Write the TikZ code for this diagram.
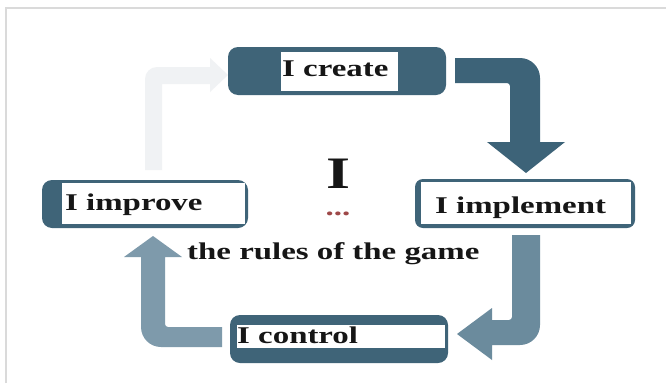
\documentclass[tikz,border=0pt]{standalone}
\usepackage{fontspec}
\setmainfont{Liberation Serif}
\newfontfamily\labelfont[FakeStretch=1.37]{Liberation Serif}
\definecolor{boxdark}{HTML}{3F6478}
\definecolor{arrowA}{HTML}{3D6378}
\definecolor{arrowB}{HTML}{6B8B9D}
\definecolor{arrowC}{HTML}{7E9AAB}
\definecolor{arrowD}{HTML}{F0F2F4}
\definecolor{framegray}{HTML}{DADADA}
\definecolor{dotred}{HTML}{9E4848}
\definecolor{ink}{HTML}{161616}
\begin{document}
\begin{tikzpicture}[x=1pt,y=-1pt,
  lbl/.style={font=\labelfont\bfseries\fontsize{24}{28}\selectfont, text=ink, inner sep=0pt, anchor=base west},
  boxouter/.style={fill=boxdark, rounded corners=10pt},
  boxinner/.style={fill=white}]
\useasboundingbox (0,0) rectangle (666,383);
\fill[white] (0,0) rectangle (666,383);
\draw[framegray, line width=1.5pt] (6,383) -- (6,8) -- (666,8);

% block arrows
% top-left (faint)
\fill[arrowD] (145,170) [rounded corners=12pt] -- (145,67) [sharp corners] -- (210,67) -- (210,58) -- (228,75) -- (210,92) -- (210,84) -- (162,84) -- (162,170) -- cycle;
% top-right
\fill[arrowA] (455,58) [rounded corners=20pt] -- (540,58) [sharp corners] -- (540,142) -- (565,142) -- (526,173) -- (487,142) -- (510,142) [rounded corners=3pt] -- (510,83) [sharp corners] -- (455,83) -- cycle;
% right-bottom
\fill[arrowB] (512,235) -- (540,235) [rounded corners=20pt] -- (540,345) [sharp corners] -- (492,345) -- (492,360) -- (457,334) -- (492,308) -- (492,320) [rounded corners=3pt] -- (512,320) [sharp corners] -- cycle;
% bottom-left
\fill[arrowC] (222,327) -- (222,347) [rounded corners=20pt] -- (141,347) [sharp corners] -- (141,257) -- (124,257) -- (153,236) -- (182,257) -- (165,257) [rounded corners=3pt] -- (165,327) [sharp corners] -- cycle;

% boxes
\fill[boxouter] (228,47) rectangle (446,95);
\fill[boxinner] (281,52) rectangle (398,91);
\node[lbl] (create) at (282,76) {I create};

\fill[boxouter, rounded corners=8pt] (415,179) rectangle (635,228);
\fill[boxinner] (421,182) rectangle (631,224);
\node[lbl] (implement) at (435,213) {I implement};

\fill[boxouter] (42,180) rectangle (248,228);
\fill[boxinner] (62,183) rectangle (245,224);
\node[lbl] (improve) at (65,210) {I improve};

\fill[boxouter] (230,315) rectangle (448,363);
\fill[boxinner] (237,325) rectangle (445,348);
\node[lbl] (control) at (237,343) {I control};

% centre
\node[lbl, font=\labelfont\bfseries\fontsize{45}{50}\selectfont] (me) at (326,188) {I};
\node[text=dotred, font=\labelfont\bfseries\fontsize{24}{28}\selectfont, inner sep=0pt, anchor=base] (dots) at (338,215) {...};
\node[lbl] (rules) at (187,259) {the rules of the game};
\end{tikzpicture}
\end{document}
